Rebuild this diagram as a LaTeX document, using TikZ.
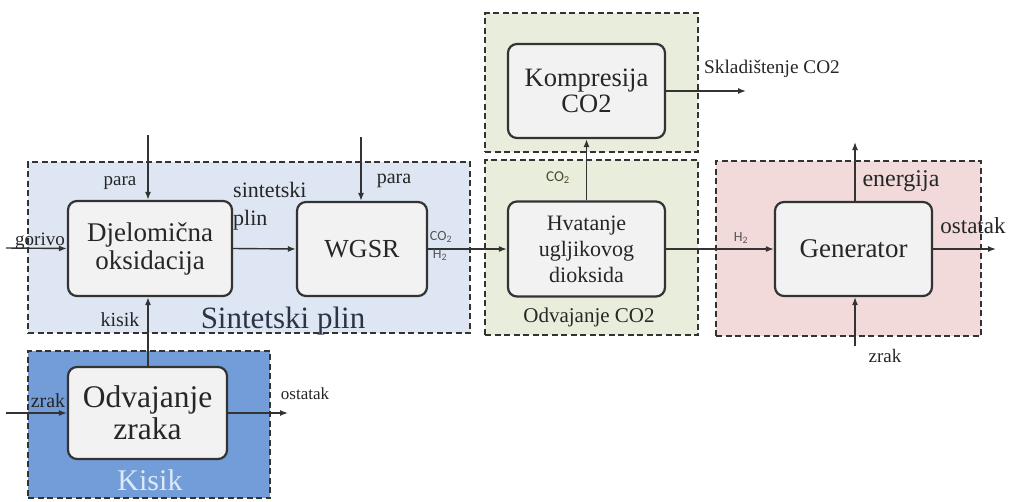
\documentclass[tikz,border=0pt]{standalone}
\usepackage{fontspec}
\setmainfont{Liberation Serif}
\newfontfamily\lblsans{Carlito}
\usetikzlibrary{arrows.meta}
\definecolor{boxgray}{HTML}{F2F2F2}
\definecolor{edge}{HTML}{333333}
\definecolor{txt}{HTML}{262626}
\definecolor{sinfill}{HTML}{DDE6F2}
\definecolor{kisfill}{HTML}{729DD9}
\definecolor{grnfill}{HTML}{E9EEDC}
\definecolor{pnkfill}{HTML}{F2DADA}
\definecolor{kistxt}{HTML}{DCE9F8}
\definecolor{sintxt}{HTML}{2B3447}
\definecolor{subtxt}{HTML}{555555}
\newcommand{\fs}[2]{\fontsize{#1}{#2}\selectfont}
\tikzset{
  box/.style={draw=edge, line width=2.2pt, rounded corners=9pt, fill=boxgray,
    align=center, inner sep=0pt, text=txt},
  region/.style={draw=edge, line width=2pt, dash pattern=on 6pt off 3.5pt,
    inner sep=0pt},
  flow/.style={draw=edge, line width=1.4pt, -{Latex[length=8pt,width=6pt]}},
  lbl/.style={inner sep=0pt, text=txt, anchor=base},
}
\begin{document}
\begin{tikzpicture}[x=1pt,y=-1pt]
\useasboundingbox[fill=white] (0,0) rectangle (1016,501);
% regions
\node[region, fill=sinfill, minimum width=442pt, minimum height=171pt] (rsin) at (249,247.5) {};
\node[region, fill=kisfill, minimum width=242pt, minimum height=147pt] (rkis) at (149,424.5) {};
\node[region, fill=grnfill, minimum width=213pt, minimum height=175pt] (rodv) at (591.5,247.5) {};
\node[region, fill=grnfill, minimum width=213pt, minimum height=139pt] (rkom) at (591.5,82.5) {};
\node[region, fill=pnkfill, minimum width=265pt, minimum height=175pt] (rgen) at (848.5,248.5) {};
% region labels
\node[lbl, text=sintxt, font=\fs{31}{34}] (lsin) at (283,328) {Sintetski plin};
\node[lbl, text=kistxt, font=\fs{30}{32}] (lkis) at (150,490) {Kisik};
\node[lbl, font=\fs{21}{24}] (lodv) at (589,322) {Odvajanje CO2};
% boxes
\node[box, font=\fs{27}{28}, minimum width=164pt, minimum height=95pt] (djel) at (150,248.5) {Djelomična\\oksidacija};
\node[box, font=\fs{26}{28}, minimum width=130pt, minimum height=94pt] (wgsr) at (362,249) {WGSR};
\node[box, font=\fs{31.5}{32}, minimum width=159pt, minimum height=92pt] (oz) at (147.5,413) {Odvajanje\\zraka};
\node[box, font=\fs{26.5}{26}, minimum width=157pt, minimum height=94pt] (komp) at (586.5,91) {Kompresija\\CO2};
\node[box, font=\fs{22}{26}, minimum width=157pt, minimum height=95pt] (hv) at (586.5,249) {Hvatanje\\ugljikovog\\dioksida};
\node[box, font=\fs{27}{28}, minimum width=157pt, minimum height=94pt] (gen) at (853.5,249) {Generator};
% free ends
\coordinate (gorivo) at (6,248);
\coordinate (para1) at (148,135);
\coordinate (para2) at (361,137);
\coordinate (skl) at (746,91);
\coordinate (en) at (855,142);
\coordinate (ost) at (996,249);
\coordinate (zrak2) at (855,346);
\coordinate (zrak1) at (6,413);
\coordinate (ost1) at (288,413);
% connectors
\draw[flow] (gorivo) -- (djel.west);
\draw[flow] (para1) -- (para1 |- djel.north);
\draw[flow] (oz.north -| para1) -- (para1 |- djel.south);
\draw[flow] (djel.east) -- (wgsr.west);
\draw[flow] (para2) -- (para2 |- wgsr.north);
\draw[flow] (wgsr.east) -- (hv.west);
\draw[flow] (hv.north) -- (komp.south);
\draw[flow] (komp.east) -- (skl);
\draw[flow] (hv.east) -- (gen.west);
\draw[flow] (en |- gen.north) -- (en);
\draw[flow] (gen.east) -- (ost);
\draw[flow] (zrak2) -- (zrak2 |- gen.south);
\draw[flow] (zrak1) -- (oz.west);
\draw[flow] (oz.east) -- (ost1);
% connector labels
\node[lbl, font=\fs{19}{20}] (tgor) at (40,245) {gorivo};
\node[lbl, font=\fs{19}{20}] (tpara1) at (120,185) {para};
\node[lbl, font=\fs{20}{22}] (tkisik) at (120,326) {kisik};
\node[lbl, anchor=base west, font=\fs{22}{24}] (tsint) at (233,197) {sintetski};
\node[lbl, anchor=base west, font=\fs{22}{24}] (tplin) at (233,225) {plin};
\node[lbl, font=\fs{20}{22}] (tpara2) at (394,183) {para};
\node[lbl, text=subtxt, font=\lblsans\fs{14}{16}] (tco2a) at (441,240) {CO\textsubscript{2}};
\node[lbl, text=subtxt, font=\lblsans\fs{14}{16}] (th2a) at (440,258) {H\textsubscript{2}};
\node[lbl, text=black!60!olive, font=\lblsans\fs{15}{16}] (tco2b) at (558,181) {CO\textsubscript{2}};
\node[lbl, text=subtxt, font=\lblsans\fs{14}{16}] (th2b) at (741,241) {H\textsubscript{2}};
\node[lbl, anchor=base west, font=\fs{19.3}{20}] (tskl) at (704,73) {Skladištenje CO2};
\node[lbl, font=\fs{24}{24}] (ten) at (901,186) {energija};
\node[lbl, font=\fs{23}{24}] (tost) at (973,233) {ostatak};
\node[lbl, font=\fs{19}{20}] (tzrak2) at (885,362) {zrak};
\node[lbl, font=\fs{20}{22}] (tzrak1) at (48,407) {zrak};
\node[lbl, font=\fs{17}{18}] (tost1) at (305,399) {ostatak};
\end{tikzpicture}
\end{document}
